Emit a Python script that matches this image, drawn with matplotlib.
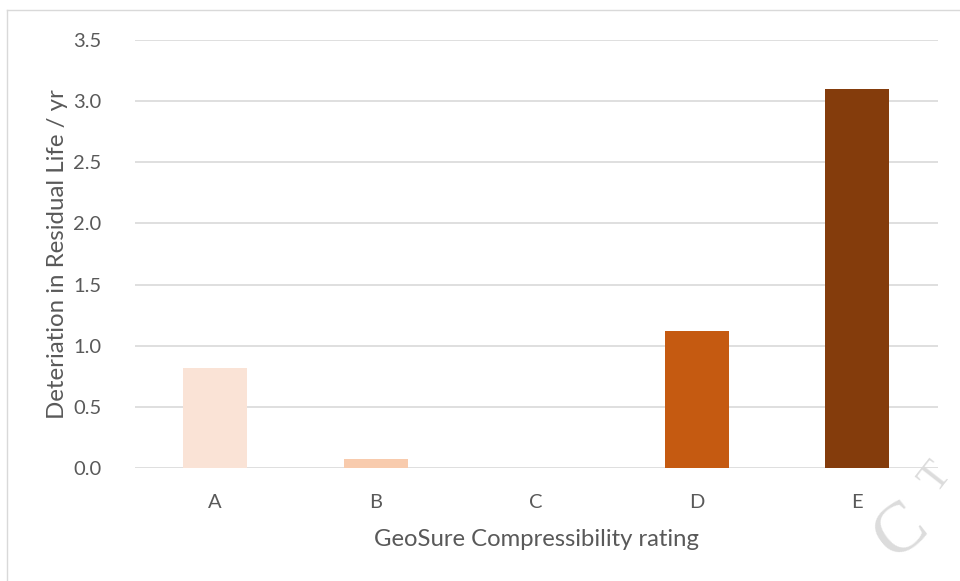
import matplotlib
matplotlib.use("Agg")
import matplotlib.pyplot as plt
from matplotlib.lines import Line2D

categories = ["A", "B", "C", "D", "E"]
values = [0.82, 0.07, 0.0, 1.12, 3.10]
colors = ["#FAE3D6", "#F8CBAD", "#F4B183", "#C55A11", "#843C0C"]
yticks = [0.0, 0.5, 1.0, 1.5, 2.0, 2.5, 3.0, 3.5]

plt.rcParams['font.family'] = ['Lato', 'DejaVu Sans']

fig = plt.figure(figsize=(9.6, 5.81), dpi=100)
ax = fig.add_axes([135/960, 1 - 468/581, (937.5 - 135)/960, (468 - 40)/581])

x = list(range(len(categories)))
ax.bar(x, values, width=0.4, color=colors, zorder=3)
ax.set_xlim(-0.5, len(categories) - 0.5)
ax.set_ylim(0, 3.5)
ax.set_yticks(yticks)
ax.set_yticklabels([f"{v:.1f}" for v in yticks])
ax.set_xticks(x)
ax.set_xticklabels(categories)
ax.grid(axis='y', color='#D9D9D9', linewidth=1.2, zorder=0)
for s in ax.spines.values():
    s.set_visible(False)
ax.tick_params(axis='both', length=0, labelsize=14.5, labelcolor='#595959')
ax.tick_params(axis='y', pad=24)
ax.tick_params(axis='x', pad=19)
ax.set_xlabel("GeoSure Compressibility rating", fontsize=17.2, color='#595959', labelpad=13)
ax.set_ylabel("Deteriation in Residual Life / yr", fontsize=17.3, color='#595959')
ax.yaxis.set_label_coords(-0.083, 0.5)

# outer frame lines (top and left)
fig.add_artist(Line2D([7/960, 7/960], [0, 1 - 10/581], transform=fig.transFigure, color='#D9D9D9', lw=1))
fig.add_artist(Line2D([7/960, 1], [1 - 10/581, 1 - 10/581], transform=fig.transFigure, color='#D9D9D9', lw=1))

# faint watermark letters
fig.text(902/960, 1 - 532/581, "C", fontsize=52, color='#DCDCDC', rotation=38,
         ha='center', va='center', family='Liberation Serif', zorder=0)
fig.text(936/960, 1 - 478/581, "T", fontsize=30, color='#DCDCDC', rotation=52,
         ha='center', va='center', family='Liberation Serif', zorder=0)

fig.savefig("out.png", dpi=100)
